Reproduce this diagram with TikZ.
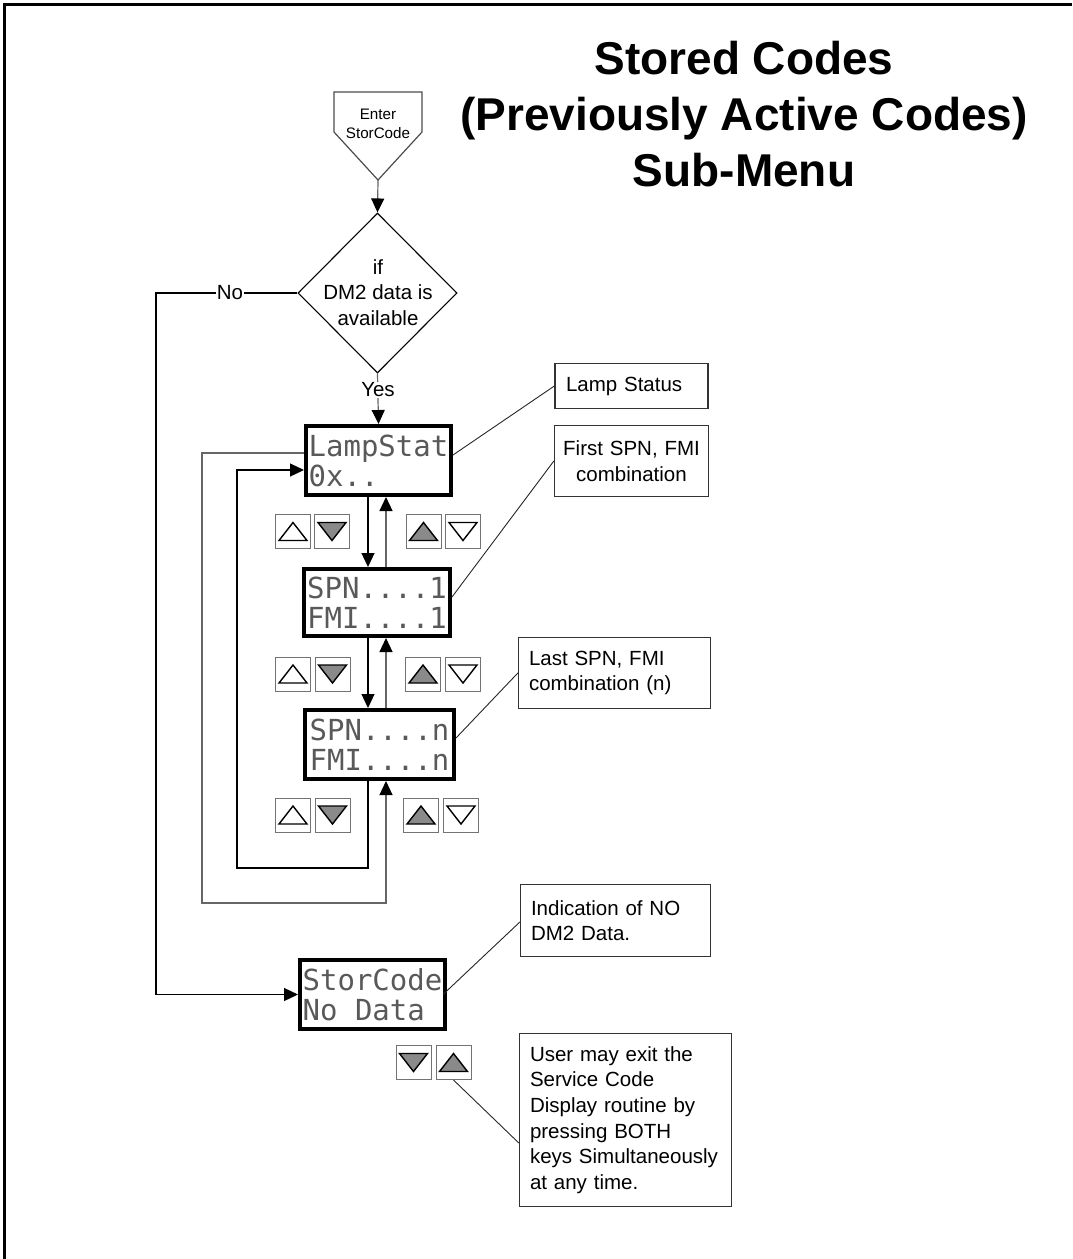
\documentclass[tikz,border=0pt]{standalone}
\usepackage{fontspec}
\setmainfont{Liberation Sans}
\newfontfamily\dotfont{DejaVu Sans Mono}
\usetikzlibrary{arrows.meta,shapes.geometric,calc}
\newcommand\notefont{\fontsize{20.5}{25.6}\selectfont}
\newcommand\lcdfont{\dotfont\fontsize{29}{30}\selectfont}
\newcommand\kup[4]{\node[keyst] (#1) at (#2,#3) {};
  \draw[#4] ($(#1)+(-14,9)$) -- ($(#1)+(14,9)$) -- ($(#1)+(0,-9)$) -- cycle;}
\newcommand\kdn[4]{\node[keyst] (#1) at (#2,#3) {};
  \draw[#4] ($(#1)+(-14,-9)$) -- ($(#1)+(14,-9)$) -- ($(#1)+(0,9)$) -- cycle;}
\begin{document}
\begin{tikzpicture}[x=1pt,y=-1pt,
  tip/.tip={Triangle[length=14pt,width=13pt,color=black]},
  conn/.style={draw=black, line width=1.2pt},
  connG/.style={draw=black!60, line width=1.2pt},
  lcd/.style={draw=black, line width=4pt, inner sep=0pt, align=left, font=\lcdfont, text=black!65},
  note/.style={draw=black!80, line width=1.3pt, align=left, font=\notefont, inner ysep=0pt},
  leader/.style={draw=black!85, line width=0.9pt},
  keyst/.style={draw=black!55, line width=1pt, minimum width=35pt, minimum height=34pt, inner sep=0pt},
  triw/.style={draw=black, line width=1.4pt, fill=white, line join=miter},
  trig/.style={draw=black, line width=1.4pt, fill=black!46, line join=miter}]
\useasboundingbox (0,0) rectangle (1072,1259);
% frame
\draw[line width=3pt] (4,1259) -- (4,4) -- (1072,4);
% title
\node[font=\bfseries\fontsize{46}{56}\selectfont, align=center] (title) at (744,114)
  {Stored Codes\\(Previously Active Codes)\\Sub-Menu};
% enter shape
\draw[draw=black!70, line width=1.2pt] (334,92) -- (422,92) -- (422,132) -- (378,180) -- (334,132) -- cycle;
\node[align=center, font=\fontsize{15.2}{18.5}\selectfont] (enter) at (378,124) {Enter\\StorCode};
\coordinate (entertip) at (378,180);
% decision
\node[diamond, draw=black, line width=1.1pt, minimum width=159pt, minimum height=160pt, inner sep=0pt] (dia) at (377.5,293) {};
\node[align=center, font=\notefont] (diatext) at (378,292.5) {if\\DM2 data is\\available};
% LCD displays
\node[lcd, minimum width=145pt, minimum height=69pt] (lampstat) at (378.5,460.5) {LampStat\\0x..};
\node[lcd, minimum width=146pt, minimum height=67pt] (spn1) at (377,602.5) {SPN....1\\FMI....1};
\node[lcd, minimum width=149pt, minimum height=69pt] (spnn) at (379.5,744.5) {SPN....n\\FMI....n};
\node[lcd, minimum width=145pt, minimum height=69pt] (storcode) at (372.5,994.5) {StorCode\\No Data};
% notes
\node[note, text width=131pt, inner xsep=11pt, minimum height=45pt] (lampnote) at (631.5,386) {Lamp Status};
\node[note, text width=146pt, inner xsep=4pt, minimum height=71pt, align=center] (firstnote) at (631.5,461) {First SPN, FMI\\combination};
\node[note, text width=171pt, inner xsep=10.5pt, minimum height=71pt] (lastnote) at (614.5,673) {Last SPN, FMI\\combination (n)};
\node[note, text width=169pt, inner xsep=10.5pt, minimum height=72pt] (indnote) at (615.5,920.5) {Indication of NO\\DM2 Data.};
\node[note, text width=191pt, inner xsep=10.5pt, minimum height=173pt] (usernote) at (625.5,1120)
  {User may exit the\\Service Code\\Display routine by\\pressing BOTH\\keys Simultaneously\\at any time.};
% keys
\kup{k1a}{293}{531.5}{triw} \kdn{k1b}{332}{531.5}{trig}
\kup{k1c}{423.5}{531.5}{trig} \kdn{k1d}{463}{531.5}{triw}
\kup{k2a}{293}{674}{triw} \kdn{k2b}{332.5}{674}{trig}
\kup{k2c}{423}{674}{trig} \kdn{k2d}{463}{674}{triw}
\kup{k3a}{293}{815}{triw} \kdn{k3b}{332.5}{815}{trig}
\kup{k3c}{421}{815}{trig} \kdn{k3d}{461}{815}{triw}
\kdn{k4a}{413.5}{1062.5}{trig} \kup{k4b}{453.5}{1062.5}{trig}
% helper coordinates
\coordinate (xd) at (368,0);
\coordinate (xu) at (386,0);
\coordinate (xin) at (237,0);
\coordinate (xout) at (202,0);
\coordinate (xno) at (156,0);
\coordinate (yin) at (0,868);
\coordinate (yout) at (0,903);
\coordinate (ya) at (0,470);
\coordinate (yb) at (0,453);
% connectors
\draw[connG,-tip] (entertip) -- (dia.north);
\draw[connG,-tip] (dia.south) -- (lampstat.north);
\node[fill=white, inner sep=1pt, font=\notefont] (yes) at (378,390) {Yes};
\draw[conn,-tip] (dia.west) -- (xno |- dia.west) -- (xno |- storcode.west) -- (storcode.west);
\node[fill=white, inner sep=1pt, font=\notefont] (no) at (230,293) {No};
\draw[conn,-tip] (lampstat.south -| xd) -- (spn1.north -| xd);
\draw[connG,-tip] (spn1.north -| xu) -- (lampstat.south -| xu);
\draw[conn,-tip] (spn1.south -| xd) -- (spnn.north -| xd);
\draw[connG,-tip] (spnn.north -| xu) -- (spn1.south -| xu);
\draw[conn,-tip] (spnn.south -| xd) -- (xd |- yin) -- (xin |- yin) -- (xin |- ya) -- (lampstat.west |- ya);
\draw[connG,-tip] (lampstat.west |- yb) -- (xout |- yb) -- (xout |- yout) -- (xu |- yout) -- (spnn.south -| xu);
% leaders
\draw[leader] (lampnote.west) -- ([yshift=5.5pt]lampstat.east);
\draw[leader] (firstnote.west) -- ([yshift=5.5pt]spn1.east);
\draw[leader] (lastnote.west) -- ([yshift=6.5pt]spnn.east);
\draw[leader] ([yshift=-1.5pt]indnote.west) -- ([xshift=-4pt]storcode.east);
\draw[leader] (k4b.south) -- ([yshift=-23pt]usernote.west);
\end{tikzpicture}
\end{document}
